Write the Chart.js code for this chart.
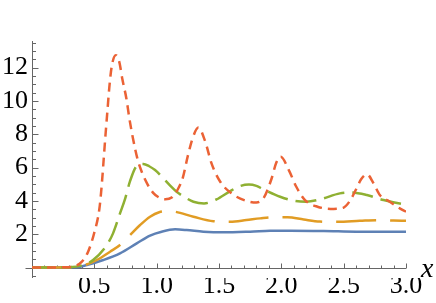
<!DOCTYPE html>
<html>
<head>
<meta charset="utf-8">
<script src="https://cdn.jsdelivr.net/npm/chart.js@4.4.1/dist/chart.umd.min.js"></script>
<style>
  html, body { margin: 0; padding: 0; background: #fff; }
  #wrap { width: 436px; height: 303px; }
</style>
</head>
<body>
<div id="wrap"><canvas id="myChart" width="436" height="303"></canvas></div>
<script>
// tick labels
const xTicks = [0.5, 1.0, 1.5, 2.0, 2.5, 3.0];
const yTicks = [2, 4, 6, 8, 10, 12];

// series
const blueX = [0, 0.35, 0.44, 0.572, 0.706, 0.84, 0.947, 1.04, 1.148, 1.24, 1.375, 1.535, 1.75, 1.91, 2.07, 2.34, 2.6, 3.0];
const blueY = [0, 0.01, 0.15, 0.45, 0.85, 1.45, 1.92, 2.15, 2.29, 2.25, 2.15, 2.11, 2.15, 2.2, 2.21, 2.19, 2.15, 2.14];

const orangeX = [0, 0.3, 0.425, 0.52, 0.626, 0.706, 0.787, 0.867, 0.947, 1.02, 1.1, 1.148, 1.295, 1.455, 1.59, 1.72, 1.83, 1.95, 2.05, 2.18, 2.31, 2.45, 2.63, 2.77, 2.9, 3.0];
const orangeY = [0, 0.02, 0.15, 0.45, 0.95, 1.35, 1.95, 2.55, 3.05, 3.32, 3.38, 3.35, 3.05, 2.78, 2.75, 2.85, 2.95, 3.02, 3.02, 2.88, 2.76, 2.74, 2.8, 2.84, 2.82, 2.8];

const greenX = [0, 0.3, 0.41, 0.49, 0.6, 0.65, 0.706, 0.746, 0.787, 0.84, 0.893, 0.94, 0.987, 1.05, 1.108, 1.16, 1.23, 1.295, 1.38, 1.48, 1.59, 1.67, 1.74, 1.8, 1.857, 1.99, 2.1, 2.2, 2.31, 2.47, 2.56, 2.686, 2.82, 2.97, 3.0];
const greenY = [0, 0.02, 0.15, 0.45, 1.35, 2.05, 3.25, 4.1, 5.2, 6.1, 6.22, 6.08, 5.85, 5.38, 4.92, 4.55, 4.2, 3.95, 3.85, 4.09, 4.59, 4.89, 4.98, 4.9, 4.69, 4.25, 4.01, 3.95, 4.09, 4.45, 4.5, 4.35, 4.05, 3.81, 3.78];

const redX = [0, 0.25, 0.35, 0.4, 0.45, 0.5, 0.54, 0.56, 0.575, 0.59, 0.605, 0.62, 0.64, 0.672, 0.7, 0.725, 0.757, 0.781, 0.81, 0.845, 0.88, 0.93, 0.97, 1.02, 1.07, 1.12, 1.17, 1.21, 1.25, 1.29, 1.335, 1.39, 1.44, 1.51, 1.6, 1.72, 1.8, 1.86, 1.92, 1.96, 1.995, 2.06, 2.12, 2.19, 2.29, 2.42, 2.5, 2.55, 2.6, 2.64, 2.686, 2.74, 2.79, 2.87, 2.95, 3.0];
const redY = [0, 0.01, 0.1, 0.35, 0.95, 2.1, 3.5, 5.0, 6.5, 8.0, 9.4, 10.8, 12.1, 12.75, 12.35, 11.3, 10.15, 8.95, 7.75, 6.55, 5.75, 4.95, 4.5, 4.2, 4.1, 4.2, 4.7, 5.4, 6.7, 7.8, 8.4, 7.55, 6.25, 5.15, 4.45, 4.0, 3.9, 4.2, 5.3, 6.3, 6.65, 5.85, 4.85, 4.05, 3.65, 3.52, 3.6, 4.0, 4.7, 5.3, 5.6, 5.05, 4.35, 3.95, 3.55, 3.35];

const serif = "'Liberation Serif', serif";

function pts(xs, ys) {
  return xs.map((v, i) => ({ x: v, y: ys[i] }));
}

const axesPlugin = {
  id: "axes",
  beforeDatasetsDraw(chart) {
    const { ctx, scales: { x, y } } = chart;
    const x0 = Math.round(x.getPixelForValue(0)) + 0.5;
    const y0 = Math.round(y.getPixelForValue(0)) + 0.5;
    ctx.save();
    ctx.strokeStyle = "#666";
    ctx.lineWidth = 1;
    ctx.beginPath();
    ctx.moveTo(x0 - 7, y0);
    ctx.lineTo(x.right, y0);
    ctx.moveTo(x0, y.bottom);
    ctx.lineTo(x0, y.top);
    // x ticks, pointing up
    for (let i = 1; i <= 30; i++) {
      const px = Math.round(x.getPixelForValue(i / 10)) + 0.5;
      const len = i % 5 === 0 ? 5 : 3;
      ctx.moveTo(px, y0);
      ctx.lineTo(px, y0 - len);
    }
    // y ticks, pointing right
    for (let i = -1; i <= 27; i++) {
      if (i === 0) continue;
      const py = Math.round(y.getPixelForValue(i / 2)) + 0.5;
      const len = i % 4 === 0 ? 6 : 3.5;
      ctx.moveTo(x0, py);
      ctx.lineTo(x0 + len, py);
    }
    ctx.stroke();
    ctx.fillStyle = "#000";
    ctx.font = "italic 28px " + serif;
    ctx.textBaseline = "alphabetic";
    ctx.fillText("x", x.right + 15, y0 + 8);
    ctx.restore();
  }
};

const ctx = document.getElementById("myChart");
const myChart = new Chart(ctx, {
  type: "line",
  data: {
    datasets: [
      {
        data: pts(redX, redY),
        borderColor: "#EB6235",
        borderDash: [9, 6],
        order: 0,
      },
      {
        data: pts(greenX, greenY),
        borderColor: "#8FB032",
        borderDash: [21, 8],
        order: 1,
      },
      {
        data: pts(orangeX, orangeY),
        borderColor: "#E19C24",
        borderDash: [40, 14],
        order: 2,
      },
      {
        data: pts(blueX, blueY),
        borderColor: "#5E81B5",
        order: 3,
      },
    ],
  },
  options: {
    responsive: false,
    animation: false,
    datasets: {
      line: {
        borderWidth: 2.5,
        pointRadius: 0,
        fill: false,
        cubicInterpolationMode: "monotone",
        borderCapStyle: "butt",
      },
    },
    layout: {
      padding: { top: 41, right: 30, bottom: 0, left: 0 },
    },
    plugins: {
      legend: { display: false },
      tooltip: { enabled: false },
    },
    scales: {
      x: {
        type: "linear",
        min: 0,
        max: 3,
        grid: { display: false, drawTicks: false },
        border: { display: false },
        afterBuildTicks: (s) => { s.ticks = xTicks.map((v) => ({ value: v })); },
        afterFit: (s) => { s.height = 25; },
        ticks: {
          color: "#000",
          padding: -7,
          maxRotation: 0,
          autoSkip: false,
          font: { family: serif, size: 26 },
          callback: (v) => Number(v).toFixed(1),
        },
      },
      y: {
        type: "linear",
        min: -0.63,
        max: 13.6,
        grid: { display: false, drawTicks: false },
        border: { display: false },
        afterBuildTicks: (s) => { s.ticks = yTicks.map((v) => ({ value: v })); },
        afterFit: (s) => { s.width = 32; },
        ticks: {
          color: "#000",
          padding: 4,
          autoSkip: false,
          font: { family: serif, size: 26 },
        },
      },
    },
  },
  plugins: [axesPlugin],
});
</script>
</body>
</html>
